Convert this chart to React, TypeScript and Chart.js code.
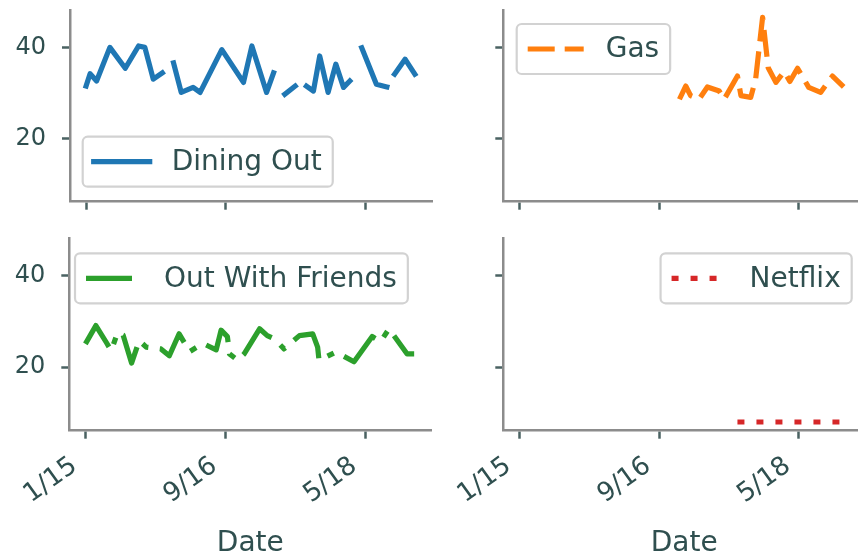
import React, { useEffect, useRef } from "react";
import { Chart, registerables } from "chart.js";

Chart.register(...registerables);

// ---- data (x = months since Jan 2015, y = spend) ----
const diningX = [0, 0.57, 1.5, 3.4, 5.6, 7.5, 8.4, 9.6, 10.9, 11.7, 12.5, 13.6, 15.3, 16.3, 19.4, 22.5, 23.7, 25.8, 26.8, 27.6, 28.4, 29.9, 30.7, 31.5, 32.5, 33.4, 34.6, 35.7, 36.8, 37.7, 38.5, 39.4, 41.5, 43.0, 43.5, 44.1, 45.6, 47.0];
const diningY = [31.5, 34.2, 32.6, 40.0, 35.4, 40.3, 40.0, 33.0, 34.4, null, 36.6, 30.1, 31.2, 30.1, 39.5, 32.3, 40.3, 30.1, 34.4, null, 29.7, 31.5, null, 31.5, 30.4, 38.1, 30.1, 36.3, 31.2, 32.6, null, 39.9, 31.9, 31.3, null, 34.1, 37.4, 34.1];

const gasX = [22.9, 23.8, 24.5, 25.7, 26.9, 28.6, 29.3, 31.2, 31.7, 33.1, 33.8, 34.8, 35.6, 36.7, 37.9, 38.7, 39.8, 41.4, 43.1, 44.8, 46.4];
const gasY = [28.6, 31.5, 29.4, 28.6, 31.3, 30.4, 28.6, 33.7, 29.4, 29.0, 33.0, 46.6, 35.5, 32.3, 34.7, 32.5, 35.4, 31.2, 30.1, 33.7, 31.3];

const friendsX = [0, 1.5, 3.0, 3.7, 4.6, 5.4, 6.6, 7.7, 8.7, 10.8, 12.0, 13.4, 14.9, 16.8, 18.7, 19.4, 20.3, 20.6, 21.8, 22.7, 24.9, 26.0, 27.0, 28.4, 30.6, 32.5, 33.2, 33.4, 35.8, 38.4, 40.1, 41.0, 42.2, 43.4, 46.0, 47.0];
const friendsY = [25.1, 29.1, 25.4, 23.6, 27.6, 27.0, 20.9, 25.8, 24.4, 24.0, 22.5, 27.3, 23.4, 25.2, 23.8, 28.1, 26.7, 22.9, 21.5, 22.9, 28.4, 26.9, 26.2, 24.0, 26.9, 27.3, 24.4, 21.5, 23.3, 21.2, 24.8, 26.7, 25.6, 28.4, 22.9, 22.9];

const netflixX = [31.2, 47.0];
const netflixY = [8.0, 8.0];

const xTickValues = [0, 20, 40];
const xTickLabels = ["1/15", "9/16", "5/18"];
const yTickValues = [20, 40];

// ---- styling ----
const X_MIN = -2.3;
const X_MAX = 49.45;
const Y_MIN = 6.1;
const Y_MAX = 48.2;
const TEXT = "#2f4f4f";
const SPINE = "#8c8c8c";
const TICKC = "#4a6262";
const FONT = "DejaVu Sans";
const LW = 5.2;
const LEG_FS = 28;

const boxLegend = {
  id: "boxLegend",
  afterDatasetsDraw(chart: any, _args: any, opts: any) {
    if (!opts || !opts.text) return;
    const { ctx, chartArea } = chart;
    ctx.save();
    ctx.font = `${LEG_FS}px "${FONT}"`;
    const pad = 11;
    const handle = 56;
    const tpad = 22;
    const tw = ctx.measureText(opts.text).width;
    const w = pad + handle + tpad + tw + pad;
    const h = 50;
    const x = opts.left ? chartArea.left + opts.dx : chartArea.right - opts.dx - w;
    const y = opts.top ? chartArea.top + opts.dy : chartArea.bottom - opts.dy - h;
    ctx.beginPath();
    if ((ctx as any).roundRect) (ctx as any).roundRect(x, y, w, h, 5);
    else ctx.rect(x, y, w, h);
    ctx.fillStyle = "rgba(255,255,255,0.8)";
    ctx.fill();
    ctx.lineWidth = 2.2;
    ctx.strokeStyle = "#d2d2d2";
    ctx.stroke();
    // handle
    const cy = y + h / 2;
    ctx.beginPath();
    ctx.setLineDash(opts.dash || []);
    ctx.lineCap = opts.cap || "butt";
    ctx.lineWidth = LW;
    ctx.strokeStyle = opts.color;
    ctx.moveTo(x + pad, cy);
    ctx.lineTo(x + pad + handle, cy);
    ctx.stroke();
    ctx.setLineDash([]);
    ctx.fillStyle = TEXT;
    ctx.textBaseline = "middle";
    ctx.textAlign = "left";
    ctx.fillText(opts.text, x + pad + handle + tpad, cy + 1);
    ctx.restore();
  },
};

type PanelProps = {
  xs: number[];
  ys: (number | null)[];
  color: string;
  dash: number[];
  cap: string;
  label: string;
  legend: any;
  left: number;
  top: number;
  width: number;
  height: number;
  yAxisWidth: number;
  xAxisHeight: number;
  padTop: number;
  padRight: number;
  showYLabels: boolean;
  showXLabels: boolean;
};

function Panel(p: PanelProps) {
  const ref = useRef<HTMLCanvasElement>(null);
  useEffect(() => {
    const points = p.xs.map((x, i) => ({ x, y: p.ys[i] }));
    const chart = new Chart(ref.current as HTMLCanvasElement, {
      type: "line",
      data: {
        datasets: [
          {
            label: p.label,
            data: points as any,
            borderColor: p.color,
            borderWidth: LW,
            borderDash: p.dash,
            borderCapStyle: p.cap as any,
            borderJoinStyle: "round",
            pointRadius: 0,
            spanGaps: false,
            tension: 0,
            fill: false,
          },
        ],
      },
      options: {
        animation: false,
        responsive: false,
        maintainAspectRatio: false,
        events: [],
        layout: {
          autoPadding: false,
          padding: { left: 0, top: p.padTop, right: p.padRight, bottom: 0 },
        } as any,
        plugins: {
          legend: { display: false },
          tooltip: { enabled: false },
          boxLegend: p.legend,
        } as any,
        scales: {
          x: {
            type: "linear",
            min: X_MIN,
            max: X_MAX,
            afterBuildTicks: (s: any) => {
              s.ticks = xTickValues.map((v) => ({ value: v }));
            },
            afterFit: (s: any) => {
              s.height = p.xAxisHeight;
              s.paddingLeft = 0;
              s.paddingRight = 0;
              s.paddingTop = 0;
              s.paddingBottom = 0;
            },
            ticks: {
              display: p.showXLabels,
              autoSkip: false,
              minRotation: 36,
              maxRotation: 36,
              padding: 12,
              labelOffset: -11,
              color: TEXT,
              font: { family: FONT, size: 26 },
              callback: (v: any) => {
                const i = xTickValues.indexOf(Number(v));
                return i >= 0 ? xTickLabels[i] : "";
              },
            },
            grid: {
              drawOnChartArea: false,
              drawTicks: true,
              tickLength: 8,
              tickWidth: 2.5,
              tickColor: TICKC,
            },
            border: { display: true, color: SPINE, width: 2.5 },
            title: {
              display: p.showXLabels,
              text: "Date",
              color: TEXT,
              font: { family: FONT, size: 28 },
              padding: { top: 0, bottom: -2 },
            },
          },
          y: {
            type: "linear",
            min: Y_MIN,
            max: Y_MAX,
            afterBuildTicks: (s: any) => {
              s.ticks = yTickValues.map((v) => ({ value: v }));
            },
            afterFit: (s: any) => {
              s.width = p.yAxisWidth;
              s.paddingLeft = 0;
              s.paddingRight = 0;
              s.paddingTop = 0;
              s.paddingBottom = 0;
            },
            ticks: {
              display: p.showYLabels,
              padding: 16,
              color: TEXT,
              font: { family: FONT, size: 24 },
              callback: (v: any) => String(v),
            },
            grid: {
              drawOnChartArea: false,
              drawTicks: true,
              tickLength: 8,
              tickWidth: 2.5,
              tickColor: TICKC,
            },
            border: { display: true, color: SPINE, width: 2.5 },
          },
        },
      },
      plugins: [boxLegend as any],
    });
    return () => chart.destroy();
  }, []);
  return (
    <canvas
      ref={ref}
      width={p.width}
      height={p.height}
      style={{ position: "absolute", left: p.left, top: p.top, width: p.width, height: p.height }}
    />
  );
}

export default function App() {
  return (
    <div
      style={{
        position: "fixed",
        left: 0,
        top: 0,
        width: 858,
        height: 559,
        overflow: "hidden",
        background: "#ffffff",
      }}
    >
      <Panel
        xs={diningX}
        ys={diningY}
        color="#1f77b4"
        dash={[]}
        cap="square"
        label="Dining Out"
        legend={{ text: "Dining Out", color: "#1f77b4", dash: [], cap: "square", left: true, top: false, dx: 12.7, dy: 15 }}
        left={0}
        top={0}
        width={440}
        height={220}
        yAxisWidth={70}
        xAxisHeight={18.3}
        padTop={10}
        padRight={8}
        showYLabels={true}
        showXLabels={false}
      />
      <Panel
        xs={gasX}
        ys={gasY}
        color="#ff7f0e"
        dash={[27, 10]}
        cap="butt"
        label="Gas"
        legend={{ text: "Gas", color: "#ff7f0e", dash: [27, 10], cap: "butt", left: true, top: true, dx: 13.4, dy: 14 }}
        left={440}
        top={0}
        width={440}
        height={220}
        yAxisWidth={63.3}
        xAxisHeight={18.3}
        padTop={10}
        padRight={15}
        showYLabels={false}
        showXLabels={false}
      />
      <Panel
        xs={friendsX}
        ys={friendsY}
        color="#2ca02c"
        dash={[46, 11.5, 7, 11.5]}
        cap="butt"
        label="Out With Friends"
        legend={{ text: "Out With Friends", color: "#2ca02c", dash: [46, 11.5, 7, 11.5], cap: "butt", left: true, top: true, dx: 5.7, dy: 15 }}
        left={0}
        top={220}
        width={440}
        height={339}
        yAxisWidth={69.3}
        xAxisHeight={128.3}
        padTop={18.3}
        padRight={8.7}
        showYLabels={true}
        showXLabels={true}
      />
      <Panel
        xs={netflixX}
        ys={netflixY}
        color="#d62728"
        dash={[7, 12]}
        cap="butt"
        label="Netflix"
        legend={{ text: "Netflix", color: "#d62728", dash: [7, 12], cap: "butt", left: false, top: true, dx: 13.3, dy: 15 }}
        left={440}
        top={220}
        width={440}
        height={339}
        yAxisWidth={63.3}
        xAxisHeight={128.3}
        padTop={18.3}
        padRight={15}
        showYLabels={false}
        showXLabels={true}
      />
    </div>
  );
}
